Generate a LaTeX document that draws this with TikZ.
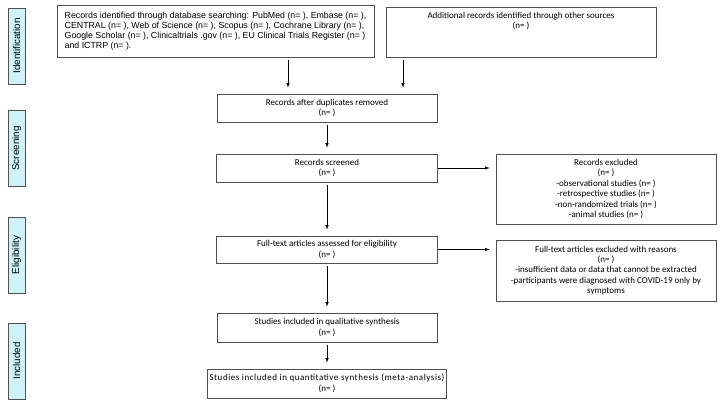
\documentclass[tikz,border=0pt]{standalone}
\usepackage{fontspec}
\setmainfont{Carlito}
\newfontfamily\arialfont{Liberation Sans}
\definecolor{phasefill}{RGB}{206,242,248}
\definecolor{edge}{RGB}{80,80,80}
\newcommand{\phase}[3]{\node[phase] (#1) at (16.5,#2) {#3};}
\newcommand{\stagebox}[6]{\node[box, minimum width=#4, minimum height=#5] (#1) at (#2,#3) {#6};}
\newcommand{\flow}[2]{\draw[flow] (#1) -- (#2);}

\begin{document}
\begin{tikzpicture}[x=1pt,y=-1pt,
    box/.style={draw=edge, line width=0.7pt, inner sep=2pt, align=center,
      font=\fontsize{9}{10.4}\selectfont},
    phase/.style={draw=edge, line width=0.7pt, fill=phasefill, rotate=90,
      minimum width=76, minimum height=17, inner sep=1pt,
      font=\arialfont\fontsize{9.8}{10}\selectfont},
    flow/.style={->, >=latex, line width=0.6pt, shorten >=6pt, shorten <=3pt}]
    \useasboundingbox (0,0) rectangle (721,405);
    \phase{ident}{46}{Identification}
    \phase{screen}{148.5}{Screening}
    \phase{elig}{255}{Eligibility}
    \phase{incl}{361}{Included}

    \node[box, align=left, minimum width=317, minimum height=52,
      font=\arialfont\fontsize{8.8}{10}\selectfont] (db) at (215.5,31)
      {Records identified through database searching: PubMed (n= ), Embase (n= ),\\
       CENTRAL (n= ), Web of Science (n= ), Scopus (n= ), Cochrane Library (n= ),\\
       Google Scholar (n= ), Clinicaltrials .gov (n= ), EU Clinical Trials Register (n= )\\
       and ICTRP (n= ).};
    \node[box, minimum width=270, minimum height=50,
      label={[anchor=north, yshift=-2pt, align=center, font=\fontsize{9}{10.4}\selectfont]north:{Additional records identified through other sources\\(n= )}}]
      (other) at (521,32) {};

    \stagebox{dup}{327}{108}{220}{28}{Records after duplicates removed\\(n= )}
    \stagebox{scr}{327}{168}{221}{28}{Records screened\\(n= )}
    \stagebox{excl}{606}{189}{220}{70}{Records excluded\\(n= )\\-observational studies (n= )\\-retrospective studies (n= )\\-non-randomized trials (n= )\\-animal studies (n= )}
    \stagebox{full}{327}{249.5}{221}{27}{Full-text articles assessed for eligibility\\(n= )}
    \stagebox{fexcl}{606}{270.5}{220}{61}{Full-text articles excluded with reasons\\(n= )\\-insufficient data or data that cannot be extracted\\-participants were diagnosed with COVID-19 only by\\symptoms}
    \stagebox{qual}{327}{327.5}{220}{29}{Studies included in qualitative synthesis\\(n= )}
    \stagebox{quant}{327}{383.5}{224}{29}{\addfontfeature{LetterSpace=6}Studies included in quantitative synthesis (meta-analysis)\\(n= )}

    \draw[flow] (db.south -| 288,0) -- (dup.north -| 288,0);
    \draw[flow] (other.south -| 403,0) -- (dup.north -| 403,0);
    \flow{dup.south}{scr.north}
    \draw[flow, shorten <=0pt] (scr.east) -- (scr.east -| excl.west);
    \flow{scr.south}{full.north}
    \draw[flow, shorten <=0pt] (full.east) -- (full.east -| fexcl.west);
    \flow{full.south}{qual.north}
    \flow{qual.south}{quant.north}
\end{tikzpicture}
\end{document}
